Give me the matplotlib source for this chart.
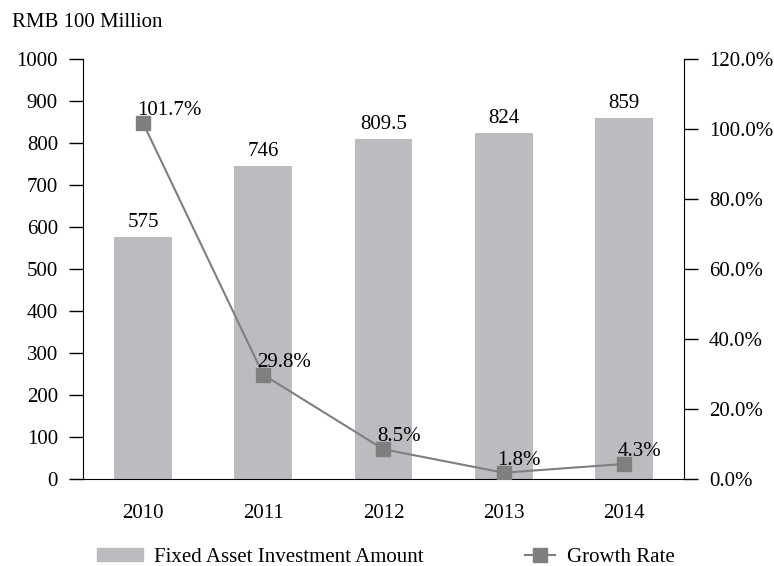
import numpy as np
import matplotlib
matplotlib.use("Agg")
import matplotlib.pyplot as plt
from matplotlib.ticker import FuncFormatter

# dane
years = ['2010', '2011', '2012', '2013', '2014']
investment = [575, 746, 809.5, 824, 859]
investment_labels = ['575', '746', '809.5', '824', '859']
growth = [101.7, 29.8, 8.5, 1.8, 4.3]

plt.rcParams['font.family'] = ['Liberation Serif', 'DejaVu Serif']
plt.rcParams['font.size'] = 15

fig = plt.figure(figsize=(7.74, 5.66), dpi=100)
ax = fig.add_axes([0.1072, 0.1537, 0.7765, 0.7421])
x = np.arange(len(years))

bar_color = '#bcbcc0'
line_color = '#7f7f7f'

ax.bar(x, investment, width=0.48, color=bar_color, zorder=2)
for xi, v, lab in zip(x, investment, investment_labels):
    ax.text(xi, v + 24, lab, ha='center', va='baseline')

ax.set_xlim(-0.5, 4.5)
ax.set_ylim(0, 1000)
ax.set_yticks(range(0, 1001, 100))
ax.set_xticks(x)
ax.set_xticklabels(years)
ax.tick_params(axis='x', length=0, pad=18)
ax.tick_params(axis='y', length=10, width=1, pad=8)
ax.spines['top'].set_visible(False)
ax.spines['right'].set_visible(False)

ax2 = ax.twinx()
ax2.plot(x, growth, color=line_color, lw=1.5, marker='s', markersize=9.5,
         markerfacecolor=line_color, markeredgecolor=line_color, zorder=3)
for xi, g in zip(x, growth):
    ax2.text(xi - 0.05, g + 2.3, f'{g}%', ha='left', va='baseline')
ax2.set_ylim(0, 120)
ax2.set_yticks(range(0, 121, 20))
ax2.yaxis.set_major_formatter(FuncFormatter(lambda v, p: f'{v:.1f}%'))
ax2.tick_params(axis='y', length=10, width=1, pad=8)
ax2.spines['top'].set_visible(False)
ax2.spines['left'].set_visible(False)
ax2.spines['bottom'].set_visible(False)

fig.text(0.015, 0.961, 'RMB 100 Million', ha='left', va='center')

# legenda - dwie osobne, bo uchwyty mają różną długość
h1 = plt.Rectangle((0, 0), 1, 1, color=bar_color)
h2, = ax2.plot([], [], color=line_color, lw=1.5, marker='s', markersize=9.5)
fig.legend([h1], ['Fixed Asset Investment Amount'], loc='center left',
           bbox_to_anchor=(97 / 774, 1 - 557 / 566), frameon=False,
           borderpad=0, borderaxespad=0, handlelength=2.2, handleheight=0.6,
           handletextpad=0.53)
fig.legend([h2], ['Growth Rate'], loc='center left',
           bbox_to_anchor=(525 / 774, 1 - 557 / 566), frameon=False,
           borderpad=0, borderaxespad=0, handlelength=1.45,
           handletextpad=0.58)

fig.savefig('out.png', dpi=100)
